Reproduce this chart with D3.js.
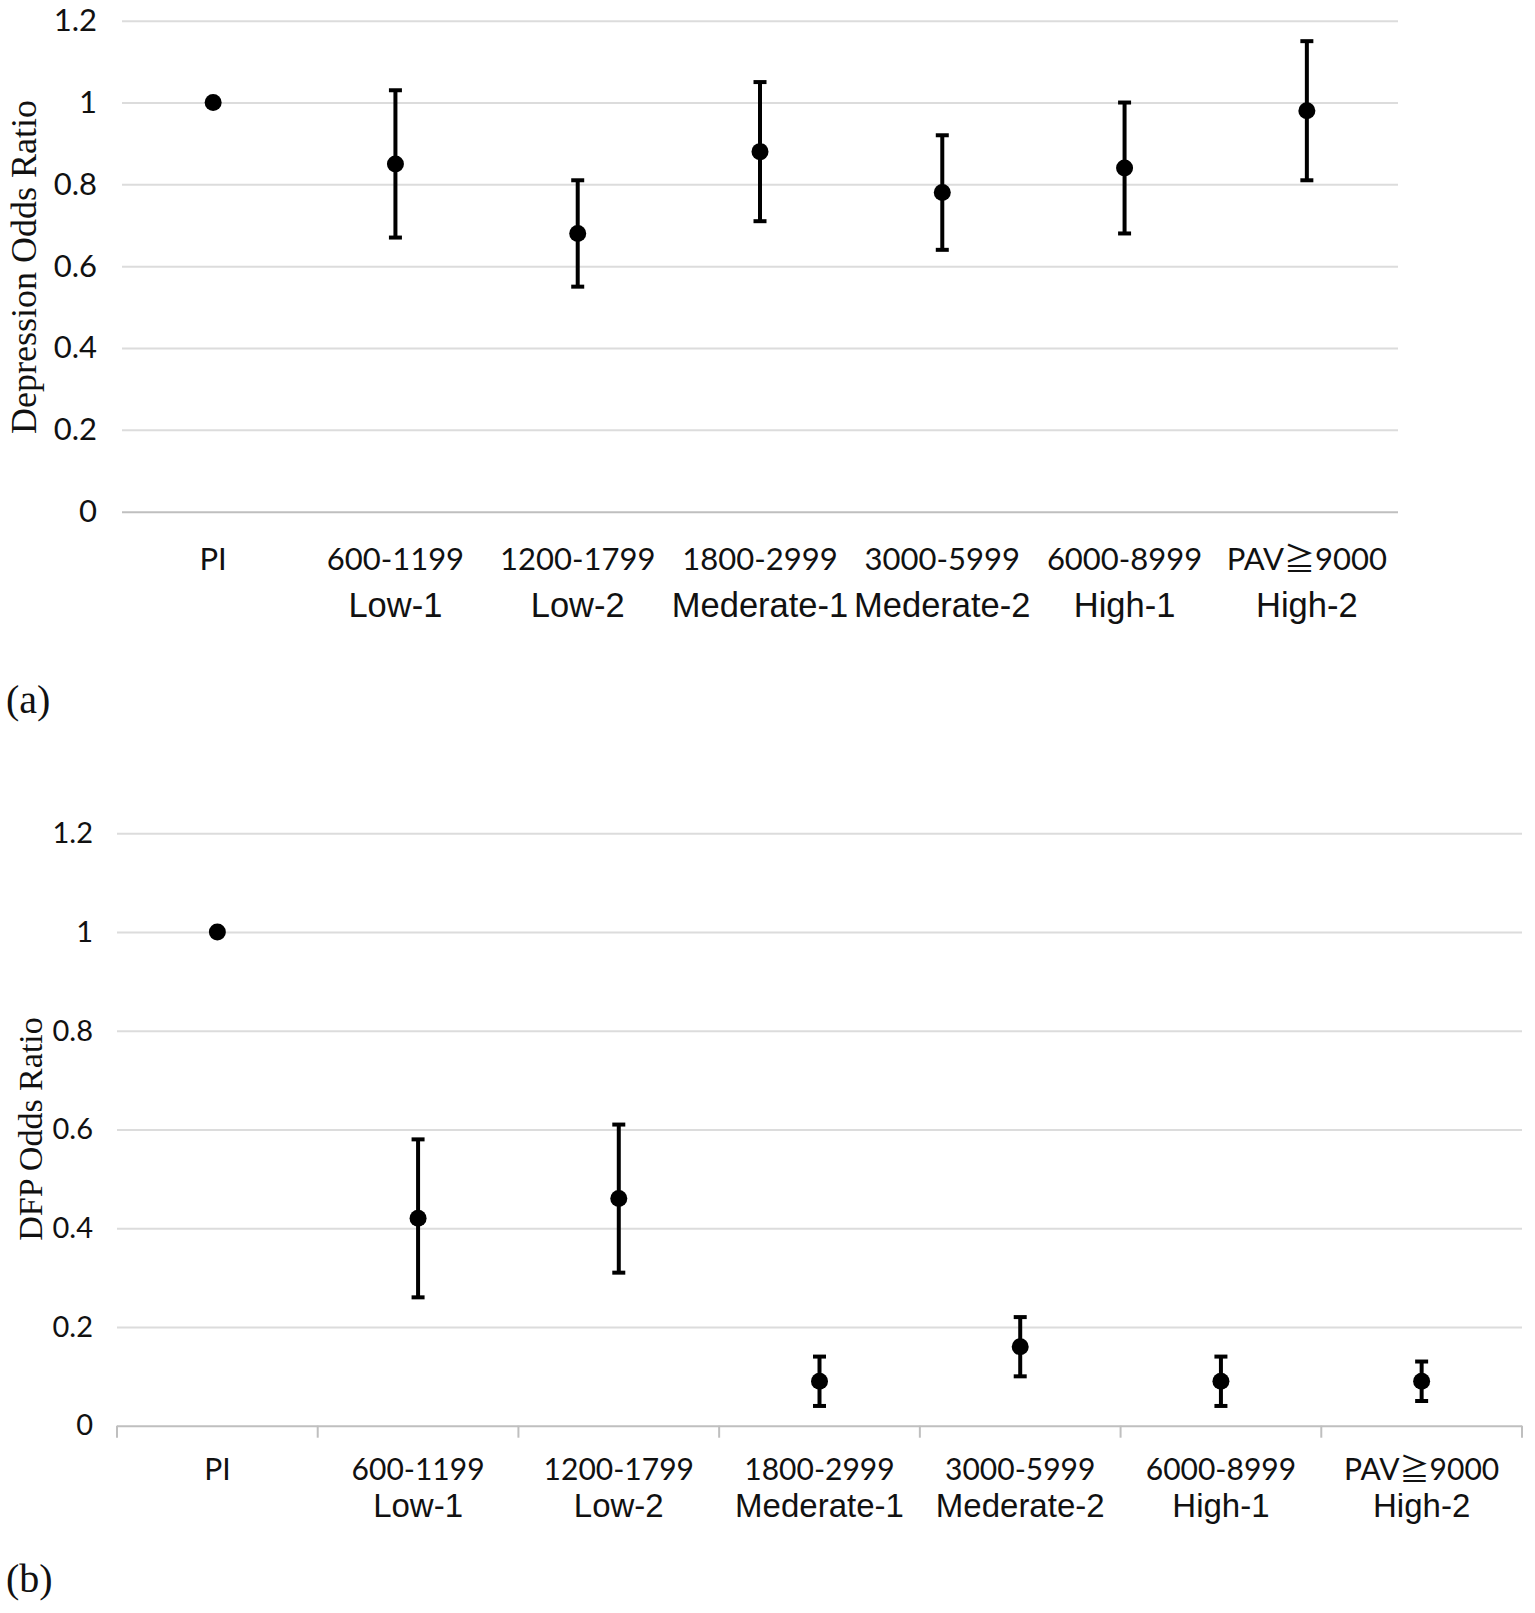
<!DOCTYPE html>
<html>
<head>
<meta charset="utf-8">
<script src="https://cdn.jsdelivr.net/npm/d3@7"></script>
<style>
  body { margin: 0; background: #fff; }
  svg { display: block; }
</style>
</head>
<body>
<div id="chart"></div>
<script>
// categories and axis labels
const categories = ["PI", "Low-1", "Low-2", "Mederate-1", "Mederate-2", "High-1", "High-2"];
const rangeLabels = ["PI", "600-1199", "1200-1799", "1800-2999", "3000-5999", "6000-8999", "PAV\u22679000"];
const levelLabels = ["", "Low-1", "Low-2", "Mederate-1", "Mederate-2", "High-1", "High-2"];
const yTicks = [0, 0.2, 0.4, 0.6, 0.8, 1, 1.2];

// (a) depression odds ratio with 95% CI
const depressionOR   = [1, 0.85, 0.68, 0.88, 0.78, 0.84, 0.98];
const depressionLow  = [null, 0.67, 0.55, 0.71, 0.64, 0.68, 0.81];
const depressionHigh = [null, 1.03, 0.81, 1.05, 0.92, 1.00, 1.15];

// (b) DFP odds ratio with 95% CI
const dfpOR   = [1, 0.42, 0.46, 0.09, 0.16, 0.09, 0.09];
const dfpLow  = [null, 0.26, 0.31, 0.04, 0.10, 0.04, 0.05];
const dfpHigh = [null, 0.58, 0.61, 0.14, 0.22, 0.14, 0.13];

const W = 1535, H = 1613;

const svg = d3.select("#chart").append("svg")
    .attr("width", W)
    .attr("height", H)
    .style("background-color", "#fff");

function drawPanel(p) {
    const x = d3.scaleBand()
        .domain(categories)
        .range([p.left, p.right]);

    const y = d3.scaleLinear()
        .domain([0, 1.2])
        .range([p.bottom, p.top]);

    const g = svg.append("g");

    // gridlines + y tick labels
    const yAxis = g.append("g")
        .attr("transform", "translate(" + p.left + ",0)")
        .call(d3.axisLeft(y)
            .tickValues(yTicks)
            .tickSize(-(p.right - p.left))
            .tickPadding(p.tickPad)
            .tickFormat(d3.format("~g")));

    yAxis.select(".domain").remove();
    yAxis.selectAll(".tick line")
        .attr("stroke", d => d === 0 ? "#bfbfbf" : "#dcdcdc")
        .attr("stroke-width", 2);
    yAxis.selectAll(".tick text")
        .attr("fill", "#111")
        .style("font-family", "Lato, 'Open Sans', sans-serif")
        .style("font-size", p.tickSize + "px");

    // category boundary ticks (panel b only)
    if (p.boundaryTicks) {
        const edges = categories.map(c => x(c)).concat([p.right]);
        g.selectAll("line.bound")
            .data(edges)
            .enter().append("line")
            .attr("x1", d => d).attr("x2", d => d)
            .attr("y1", p.bottom).attr("y2", p.bottom + 12)
            .attr("stroke", "#bfbfbf")
            .attr("stroke-width", 2);
    }

    const rows = categories.map((c, i) => ({ c: c, v: p.values[i], lo: p.lo[i], hi: p.hi[i] }));
    const cx = d => x(d.c) + x.bandwidth() / 2;

    // error bars
    const bars = g.selectAll("g.err")
        .data(rows.filter(d => d.lo !== null))
        .enter().append("g")
        .attr("stroke", "#000")
        .attr("stroke-width", 4);

    bars.append("line")
        .attr("x1", cx).attr("x2", cx)
        .attr("y1", d => y(d.lo)).attr("y2", d => y(d.hi));
    bars.append("line")
        .attr("x1", d => cx(d) - 6.5).attr("x2", d => cx(d) + 6.5)
        .attr("y1", d => y(d.hi)).attr("y2", d => y(d.hi));
    bars.append("line")
        .attr("x1", d => cx(d) - 6.5).attr("x2", d => cx(d) + 6.5)
        .attr("y1", d => y(d.lo)).attr("y2", d => y(d.lo));

    // points
    g.selectAll("circle")
        .data(rows)
        .enter().append("circle")
        .attr("cx", cx)
        .attr("cy", d => y(d.v))
        .attr("r", 8.5)
        .attr("fill", "#000");

    // two-line category labels
    g.selectAll("text.range")
        .data(categories)
        .enter().append("text")
        .attr("x", c => x(c) + x.bandwidth() / 2)
        .attr("y", p.line1Y)
        .attr("text-anchor", "middle")
        .attr("fill", "#111")
        .style("font-family", "Lato, 'Noto Sans CJK JP', sans-serif")
        .style("font-size", p.line1Size + "px")
        .text((c, i) => rangeLabels[i]);

    g.selectAll("text.level")
        .data(categories)
        .enter().append("text")
        .attr("x", c => x(c) + x.bandwidth() / 2)
        .attr("y", p.line2Y)
        .attr("text-anchor", "middle")
        .attr("fill", "#111")
        .style("font-family", "'Liberation Sans', Arial, sans-serif")
        .style("font-size", p.line2Size + "px")
        .text((c, i) => levelLabels[i]);

    // y axis title
    g.append("text")
        .attr("transform", "translate(" + p.titleX + "," + p.titleY + ") rotate(-90)")
        .attr("text-anchor", "middle")
        .attr("fill", "#111")
        .style("font-family", "'Liberation Serif', 'Times New Roman', serif")
        .style("font-size", p.titleSize + "px")
        .text(p.title);

    // panel letter
    g.append("text")
        .attr("x", 6)
        .attr("y", p.letterY)
        .attr("fill", "#111")
        .style("font-family", "'Liberation Serif', 'Times New Roman', serif")
        .style("font-size", "40px")
        .text(p.letter);
}

drawPanel({
    left: 122, right: 1398, top: 20.7, bottom: 511.7,
    values: depressionOR, lo: depressionLow, hi: depressionHigh,
    tickPad: 25, tickSize: 31,
    line1Y: 570, line1Size: 31, line2Y: 617, line2Size: 34.5,
    boundaryTicks: false,
    title: "Depression Odds Ratio", titleX: 36, titleY: 267, titleSize: 36,
    letter: "(a)", letterY: 713
});

drawPanel({
    left: 117, right: 1522, top: 833.3, bottom: 1425.7,
    values: dfpOR, lo: dfpLow, hi: dfpHigh,
    tickPad: 24, tickSize: 29,
    line1Y: 1480, line1Size: 30, line2Y: 1517, line2Size: 33,
    boundaryTicks: true,
    title: "DFP Odds Ratio", titleX: 42, titleY: 1129, titleSize: 34,
    letter: "(b)", letterY: 1592
});
</script>
</body>
</html>
